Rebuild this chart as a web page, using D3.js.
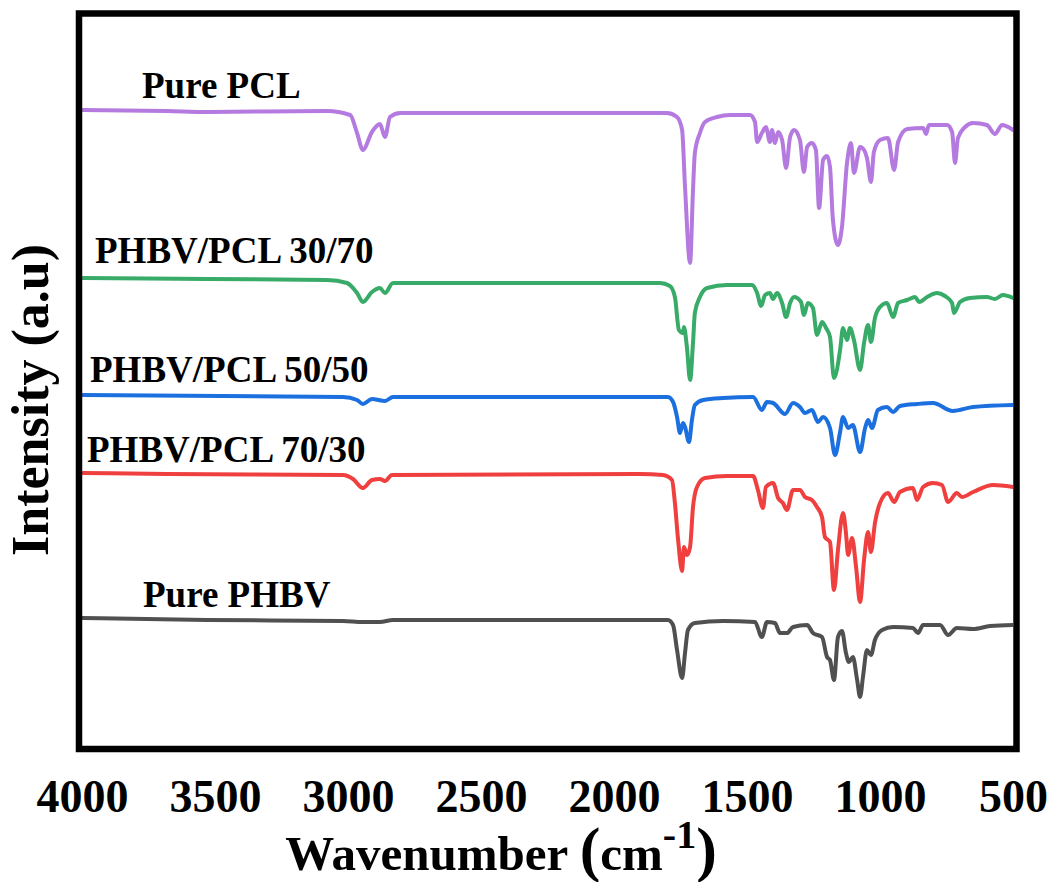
<!DOCTYPE html>
<html>
<head>
<meta charset="utf-8">
<script src="https://cdn.jsdelivr.net/npm/d3@7"></script>
<style>
  body { margin: 0; background: #fff; }
  svg { display: block; }
  text { font-family: "Liberation Serif", "Times New Roman", Times, serif; font-weight: bold; fill: #000; }
</style>
</head>
<body>
<svg id="chart" width="1059" height="882"></svg>
<script>
// FTIR spectra of PHBV, PCL and their blends, stacked with vertical offsets.
// Each series: [wavenumber (cm-1), intensity (a.u.)]

const seriesNames = ["Pure PCL", "PHBV/PCL 30/70", "PHBV/PCL 50/50", "PHBV/PCL 70/30", "Pure PHBV"];
const seriesColors = ["#b47ae0", "#38ab68", "#1b6fdf", "#ef3f3f", "#505050"];
const xTickValues = [4000, 3500, 3000, 2500, 2000, 1500, 1000, 500];

const pclData = [
  [4000, 63.5], [3680, 63.4], [3530, 63.3], [3079, 63.4], [2992, 63.0], [2966, 61.2], [2944, 59.5],
  [2910, 61.3], [2880, 62.1], [2861, 60.8], [2842, 62.8], [2804, 63.2], [2500, 63.2], [2100, 63.2],
  [1902, 63.2], [1801, 63.2], [1763, 62.8], [1744, 61.5], [1733, 55.8], [1714, 48.2], [1703, 55.5],
  [1696, 59.2], [1677, 61.2], [1658, 62.3], [1613, 62.8], [1564, 63.0], [1489, 63.0], [1470, 62.3],
  [1462, 60.3], [1444, 61.2], [1429, 61.8], [1414, 60.3], [1406, 61.5], [1395, 60.2], [1383, 61.3],
  [1368, 60.5], [1353, 57.7], [1338, 60.8], [1323, 61.5], [1301, 60.5], [1286, 57.3], [1274, 59.8],
  [1256, 60.2], [1241, 59.5], [1229, 53.7], [1214, 58.5], [1199, 58.9], [1188, 57.8], [1177, 52.5],
  [1158, 50.0], [1143, 51.8], [1124, 58.2], [1109, 60.2], [1098, 57.2], [1075, 59.8], [1060, 59.5],
  [1049, 58.7], [1034, 56.3], [1023, 59.3], [1000, 60.5], [970, 60.7], [947, 57.5], [932, 60.3],
  [898, 61.6], [838, 61.7], [827, 61.1], [816, 62.0], [748, 62.0], [729, 61.3], [718, 58.2],
  [707, 60.7], [680, 61.8], [650, 62.2], [598, 62.0], [568, 61.1], [541, 62.0], [500, 61.5]
];

const blend3070Data = [
  [4000, 46.7], [3530, 46.6], [3079, 46.5], [3004, 46.2], [2966, 45.2], [2944, 44.3], [2910, 45.3],
  [2880, 45.7], [2861, 45.2], [2831, 46.2], [2579, 46.2], [1902, 46.2], [1827, 46.2], [1790, 45.9],
  [1771, 44.8], [1756, 41.5], [1741, 41.2], [1737, 41.8], [1726, 39.8], [1714, 36.5], [1703, 40.2],
  [1696, 43.2], [1677, 44.8], [1650, 45.7], [1575, 46.0], [1481, 46.0], [1462, 45.2], [1447, 43.9],
  [1432, 45.0], [1414, 45.2], [1402, 44.6], [1387, 45.2], [1368, 44.2], [1353, 42.8], [1338, 44.2],
  [1323, 44.8], [1297, 44.3], [1286, 43.0], [1271, 44.2], [1252, 43.7], [1237, 41.0], [1218, 42.3],
  [1203, 41.7], [1188, 40.8], [1173, 36.7], [1150, 39.5], [1139, 41.7], [1124, 40.5], [1113, 41.7],
  [1098, 40.5], [1075, 37.5], [1060, 40.2], [1045, 42.0], [1034, 40.3], [1019, 42.7], [1000, 43.8],
  [974, 44.2], [951, 42.8], [932, 44.2], [898, 44.5], [868, 44.8], [853, 44.3], [823, 44.8],
  [786, 45.2], [756, 44.9], [729, 44.2], [722, 43.2], [699, 44.3], [662, 44.7], [598, 44.8],
  [568, 44.6], [538, 45.0], [500, 44.7]
];

const blend5050Data = [
  [4000, 35.0], [3019, 34.8], [2966, 34.5], [2944, 34.1], [2910, 34.6], [2861, 34.4], [2831, 34.8],
  [1902, 34.8], [1797, 34.8], [1778, 34.3], [1763, 32.8], [1752, 31.2], [1741, 32.2], [1733, 31.8],
  [1718, 30.3], [1707, 32.5], [1696, 34.0], [1665, 34.5], [1590, 34.7], [1477, 34.8], [1444, 33.5],
  [1425, 34.3], [1402, 34.2], [1357, 33.1], [1327, 34.2], [1301, 33.8], [1282, 33.2], [1256, 33.5],
  [1233, 32.3], [1214, 32.8], [1188, 31.7], [1169, 29.0], [1150, 31.3], [1139, 32.8], [1120, 31.7],
  [1102, 32.0], [1075, 29.3], [1056, 31.7], [1045, 32.5], [1030, 31.7], [1008, 33.5], [974, 33.8],
  [951, 33.3], [925, 33.9], [861, 34.1], [801, 34.2], [726, 33.4], [650, 33.8], [500, 34.0]
];

const blend7030Data = [
  [4000, 27.2], [3680, 27.1], [3019, 27.0], [2981, 26.6], [2944, 25.7], [2910, 26.5], [2880, 26.6],
  [2861, 26.4], [2835, 27.0], [1902, 27.1], [1816, 27.0], [1782, 26.5], [1771, 24.2], [1759, 20.5],
  [1744, 17.4], [1737, 19.8], [1726, 19.0], [1714, 19.8], [1703, 23.8], [1688, 25.8], [1658, 26.7],
  [1575, 26.9], [1477, 26.9], [1459, 25.5], [1440, 23.7], [1429, 25.8], [1402, 26.2], [1383, 24.7],
  [1365, 24.2], [1350, 23.5], [1327, 25.5], [1301, 25.5], [1282, 24.8], [1256, 24.5], [1237, 23.8],
  [1218, 22.8], [1207, 20.8], [1188, 20.3], [1173, 15.5], [1158, 19.5], [1139, 23.2], [1128, 21.2],
  [1120, 19.0], [1105, 20.7], [1090, 17.8], [1075, 14.3], [1060, 18.5], [1045, 21.3], [1034, 19.3],
  [1019, 22.2], [1000, 24.2], [970, 25.2], [947, 24.3], [925, 25.3], [876, 25.7], [861, 24.5],
  [838, 25.8], [801, 26.2], [767, 26.0], [744, 24.3], [711, 25.2], [692, 24.8], [650, 25.3],
  [575, 26.0], [500, 25.8]
];

const phbvData = [
  [4000, 12.7], [3530, 12.5], [3019, 12.4], [2944, 12.3], [2880, 12.3], [2831, 12.5], [1902, 12.5],
  [1797, 12.5], [1778, 12.0], [1763, 9.5], [1744, 6.7], [1733, 9.2], [1722, 11.5], [1696, 12.2],
  [1590, 12.4], [1470, 12.3], [1444, 10.8], [1425, 12.3], [1395, 12.2], [1376, 11.2], [1350, 11.2],
  [1327, 11.8], [1274, 12.0], [1252, 11.2], [1218, 10.8], [1199, 8.8], [1188, 8.5], [1173, 6.5],
  [1158, 10.8], [1143, 11.4], [1128, 9.2], [1117, 8.3], [1102, 8.8], [1086, 6.5], [1075, 4.8],
  [1064, 6.8], [1049, 9.5], [1034, 9.0], [1019, 10.5], [992, 11.5], [951, 11.8], [876, 11.7],
  [857, 11.2], [838, 12.0], [774, 12.0], [744, 11.0], [711, 11.7], [650, 11.6], [586, 11.9],
  [500, 12.0]
];

const allSeries = [pclData, blend3070Data, blend5050Data, blend7030Data, phbvData];

// Layout
const plot = { left: 82, right: 1013, top: 17, bottom: 745 };
const labelX = [142, 95, 90, 87, 143];
const labelGap = [12, 15, 13, 11, 11];

const svg = d3.select("#chart");

const x = d3.scaleLinear().domain([4000, 500]).range([plot.left, plot.right]);
const y = d3.scaleLinear().domain([0, 72.8]).range([plot.bottom, plot.top]);

svg.append("defs").append("clipPath").attr("id", "plot-clip")
  .append("rect")
  .attr("x", plot.left).attr("y", plot.top)
  .attr("width", plot.right - plot.left).attr("height", plot.bottom - plot.top);

const line = d3.line()
  .x(d => x(d[0]))
  .y(d => y(d[1]))
  .curve(d3.curveMonotoneX);

const lines = svg.append("g").attr("clip-path", "url(#plot-clip)");
allSeries.forEach((data, i) => {
  lines.append("path")
    .datum(data)
    .attr("fill", "none")
    .attr("stroke", seriesColors[i])
    .attr("stroke-width", 4)
    .attr("stroke-linejoin", "round")
    .attr("stroke-linecap", "round")
    .attr("d", line);
});

// Series labels, placed above the start of each trace
allSeries.forEach((data, i) => {
  svg.append("text")
    .attr("x", labelX[i])
    .attr("y", y(data[0][1]) - labelGap[i])
    .attr("font-size", 37)
    .text(seriesNames[i]);
});

// Frame
svg.append("rect")
  .attr("x", 79).attr("y", 13.5)
  .attr("width", 937.5).attr("height", 735.5)
  .attr("fill", "none")
  .attr("stroke", "#000")
  .attr("stroke-width", 6.5);

// X axis labels
const xAxis = d3.axisBottom(x)
  .tickValues(xTickValues)
  .tickFormat(d3.format("d"))
  .tickSize(0);

const gx = svg.append("g")
  .attr("transform", "translate(0,749)")
  .call(xAxis);
gx.select(".domain").remove();
gx.selectAll("text")
  .attr("y", 63)
  .attr("dy", null)
  .attr("font-size", 46)
  .attr("font-family", null)
  .style("font-family", "'Liberation Serif', 'Times New Roman', serif")
  .style("font-weight", "bold")
  .attr("fill", "#000");

// X axis title with superscript
const xt = svg.append("text")
  .attr("x", 501)
  .attr("y", 870)
  .attr("text-anchor", "middle")
  .attr("font-size", 49);
xt.append("tspan").text("Wavenumber ");
xt.append("tspan").attr("font-size", 62).text("(");
xt.append("tspan").text("cm");
xt.append("tspan").attr("font-size", 40).attr("dy", -22).text("-1");
xt.append("tspan").attr("font-size", 62).attr("dy", 22).text(")");

// Y axis title
svg.append("text")
  .attr("transform", "translate(48,400) rotate(-90)")
  .attr("text-anchor", "middle")
  .attr("font-size", 52)
  .text("Intensity (a.u)");
</script>
</body>
</html>
